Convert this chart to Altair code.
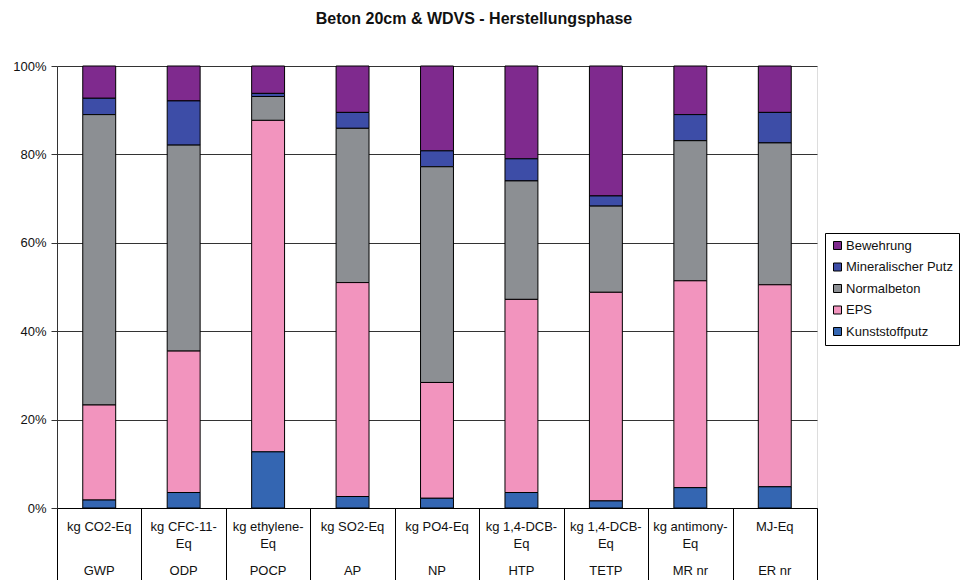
import altair as alt
import pandas as pd

TITLE = "Beton 20cm & WDVS - Herstellungsphase"
FONT = "Liberation Sans"

categories = ["GWP", "ODP", "POCP", "AP", "NP", "HTP", "TETP", "MR nr", "ER nr"]
units = ["kg CO2-Eq", "kg CFC-11-\nEq", "kg ethylene-\nEq", "kg SO2-Eq", "kg PO4-Eq",
         "kg 1,4-DCB-\nEq", "kg 1,4-DCB-\nEq", "kg antimony-\nEq", "MJ-Eq"]

# legend order (top of stack first)
series = ["Bewehrung", "Mineralischer Putz", "Normalbeton", "EPS", "Kunststoffputz"]
colors = ["#7F2A8E", "#3D4DA7", "#8C8F93", "#F294BE", "#3466B2"]

# shares in percent, per category
kunststoffputz = [1.8, 3.5, 12.7, 2.6, 2.2, 3.5, 1.6, 4.6, 4.8]
eps = [21.5, 32.0, 75.0, 48.4, 26.2, 43.7, 47.2, 46.8, 45.7]
normalbeton = [65.7, 46.6, 5.4, 34.9, 48.8, 26.8, 19.5, 31.7, 32.1]
mineralischer_putz = [3.7, 10.0, 0.7, 3.6, 3.6, 5.0, 2.3, 5.9, 6.9]
bewehrung = [7.3, 7.9, 6.2, 10.5, 19.2, 21.0, 29.4, 11.0, 10.5]

values = {
    "Bewehrung": bewehrung,
    "Mineralischer Putz": mineralischer_putz,
    "Normalbeton": normalbeton,
    "EPS": eps,
    "Kunststoffputz": kunststoffputz,
}

rows = []
for s in series:
    for c, v in zip(categories, values[s]):
        rows.append({"category": c, "material": s, "value": v,
                     "stack": len(series) - 1 - series.index(s)})
df = pd.DataFrame(rows)
labels_df = pd.DataFrame({"category": categories, "unit": units})

x_enc = alt.X(
    "category:N", sort=categories, title=None,
    scale=alt.Scale(paddingInner=0, paddingOuter=0),
    axis=alt.Axis(labels=False, tickBand="extent", tickSize=72, tickColor="black",
                  tickWidth=1, domainColor="black", grid=False),
)

bars = alt.Chart(df).mark_bar(stroke="black", strokeWidth=1, opacity=1,
                              width=alt.RelativeBandSize(0.39)).encode(
    x=x_enc,
    y=alt.Y("value:Q", stack="normalize", title=None,
            scale=alt.Scale(domain=[0, 1]),
            axis=alt.Axis(format=".0%", values=[0, 0.2, 0.4, 0.6, 0.8, 1.0],
                          grid=True, gridColor="#333333", gridWidth=1,
                          tickSize=6, tickColor="#333333", domainColor="#333333",
                          labelPadding=5, labelFontSize=13, labelColor="#111111",
                          labelFont=FONT)),
    color=alt.Color("material:N", scale=alt.Scale(domain=series, range=colors),
                    legend=alt.Legend(title=None, orient="none", legendX=768, legendY=167,
                                      fillColor="white", strokeColor="black", padding=6,
                                      symbolType="square", symbolSize=64,
                                      symbolStrokeColor="black", symbolStrokeWidth=1,
                                      symbolOpacity=1, labelFontSize=13, labelFont=FONT,
                                      labelColor="#111111", rowPadding=7.5, labelOffset=2)),
    order=alt.Order("stack:Q"),
)

unit_text = alt.Chart(labels_df).mark_text(
    lineBreak="\n", lineHeight=17, baseline="top", fontSize=13, font=FONT, color="#111111"
).encode(x=alt.X("category:N", sort=categories), y=alt.value(455), text="unit:N")

code_text = alt.Chart(labels_df).mark_text(
    baseline="top", fontSize=13, font=FONT, color="#111111"
).encode(x=alt.X("category:N", sort=categories), y=alt.value(499), text="category:N")

chart = alt.layer(bars, unit_text, code_text).properties(
    width=760, height=442,
    autosize="none",
    padding={"left": 57, "top": 66, "right": 151, "bottom": 72},
    title=alt.TitleParams(TITLE, anchor="middle", dx=37, offset=33, fontSize=16,
                          font=FONT, fontWeight="bold", color="#111111"),
).configure_view(fill="#B3B6B9", stroke="#808080").configure(background="white")

chart.save("out.html", embed_options={"renderer": "svg", "actions": False})
